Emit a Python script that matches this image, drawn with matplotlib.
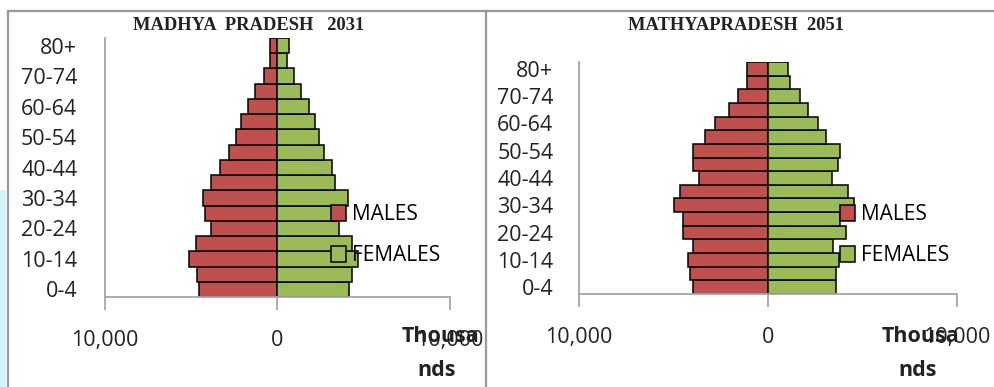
import matplotlib
matplotlib.use("Agg")
import matplotlib.pyplot as plt
from matplotlib.patches import Patch, Rectangle
from matplotlib.lines import Line2D
from matplotlib.ticker import FuncFormatter

age_groups = ["0-4", "5-9", "10-14", "15-19", "20-24", "25-29", "30-34", "35-39",
              "40-44", "45-49", "50-54", "55-59", "60-64", "65-69", "70-74", "75-79", "80+"]

# values in thousands (0-4 first)
males_2031 = [4535, 4670, 5135, 4750, 3840, 4225, 4320, 3840, 3350, 2790, 2420, 2090, 1705, 1280, 795, 446, 446]
females_2031 = [4165, 4300, 4650, 4300, 3570, 3300, 4070, 3350, 3140, 2675, 2420, 2170, 1820, 1360, 950, 560, 680]

males_2051 = [3990, 4110, 4215, 3990, 4515, 4515, 4960, 4640, 3670, 3990, 3990, 3330, 2800, 2080, 1570, 1130, 1130]
females_2051 = [3600, 3600, 3775, 3460, 4130, 3800, 4530, 4250, 3370, 3690, 3810, 3070, 2660, 2100, 1690, 1165, 1075]

titles = ["MADHYA  PRADESH   2031", "MATHYAPRADESH  2051"]
xticks = [-10000, 0, 10000]
RED = "#C0504D"
GREEN = "#9BBB59"
GRAY = "#A6A6A6"
FONT = "Open Sans"

W, H = 995, 387
fig = plt.figure(figsize=(W / 100, H / 100), dpi=100)


def fx(px):
    return px / W


def fy(py):
    return 1 - py / H


# frame lines
fig.add_artist(Line2D([fx(8), fx(8)], [fy(11), 0], color="#999999", lw=1.6))
fig.add_artist(Line2D([fx(8), 1], [fy(11), fy(11)], color="#999999", lw=1.6))
fig.add_artist(Line2D([fx(486), fx(486)], [fy(11), 0], color="#999999", lw=1.6))
# faint watermark edge on the left
fig.add_artist(Rectangle((0, 0), fx(6), fy(190), transform=fig.transFigure,
                         color="#d6f3fa", lw=0))

panels = [
    dict(l=105, r=450, t=38, b=297, m=males_2031, f=females_2031, title=titles[0],
         tx=249, leg_x=331, th_x=440, ypad=20),
    dict(l=579, r=957, t=62, b=294, m=males_2051, f=females_2051, title=titles[1],
         tx=736, leg_x=840, th_x=921, ypad=18.5),
]

ypos = list(range(len(age_groups)))
for p in panels:
    ax = fig.add_axes([fx(p["l"]), fy(p["b"]), fx(p["r"] - p["l"]), fy(p["t"]) - fy(p["b"])])
    ax.barh(ypos, [-v for v in p["m"]], height=1.0, color=RED, edgecolor="black", lw=1.1, label="MALES")
    ax.barh(ypos, p["f"], height=1.0, color=GREEN, edgecolor="black", lw=1.1, label="FEMALES")
    ax.set_xlim(-10000, 10000)
    ax.set_ylim(-0.5, len(age_groups) - 0.5)
    ax.set_xticks(xticks)
    ax.xaxis.set_major_formatter(FuncFormatter(lambda v, pos: f"{abs(int(v)):,}"))
    ax.set_yticks(ypos[::2])
    ax.set_yticklabels(age_groups[::2])
    for s in ["top", "right"]:
        ax.spines[s].set_visible(False)
    for s in ["left", "bottom"]:
        ax.spines[s].set_color(GRAY)
        ax.spines[s].set_linewidth(1.3)
    ax.tick_params(axis="x", length=9, width=1.3, color=GRAY, pad=15, labelsize=15.5)
    ax.tick_params(axis="y", length=0, pad=p["ypad"], labelsize=15.5)
    for lab in ax.get_xticklabels() + ax.get_yticklabels():
        lab.set_fontfamily(FONT)
        lab.set_color("#222222")
    fig.text(fx(p["tx"]), fy(25), p["title"], ha="center", va="center",
             family="Liberation Serif", weight="bold", fontsize=13.3, color="#222222")
    fig.text(fx(p["th_x"]), fy(337), "Thousa", ha="center", va="center",
             family=FONT, weight="bold", fontsize=15.5, color="#222222")
    fig.text(fx(p["th_x"] - 3), fy(370), "nds", ha="center", va="center",
             family=FONT, weight="bold", fontsize=15.5, color="#222222")
    handles = [Patch(facecolor=RED, edgecolor="black", lw=1.1),
               Patch(facecolor=GREEN, edgecolor="black", lw=1.1)]
    ax.legend(handles, ["MALES", "FEMALES"], loc="center left",
              bbox_to_anchor=(fx(p["leg_x"]), fy(235)), bbox_transform=fig.transFigure,
              frameon=False, handlelength=0.72, handleheight=0.8, handletextpad=0.3,
              labelspacing=0.95, borderpad=0, borderaxespad=0,
              prop={"family": FONT, "size": 15})

fig.savefig("out.png", dpi=100)
